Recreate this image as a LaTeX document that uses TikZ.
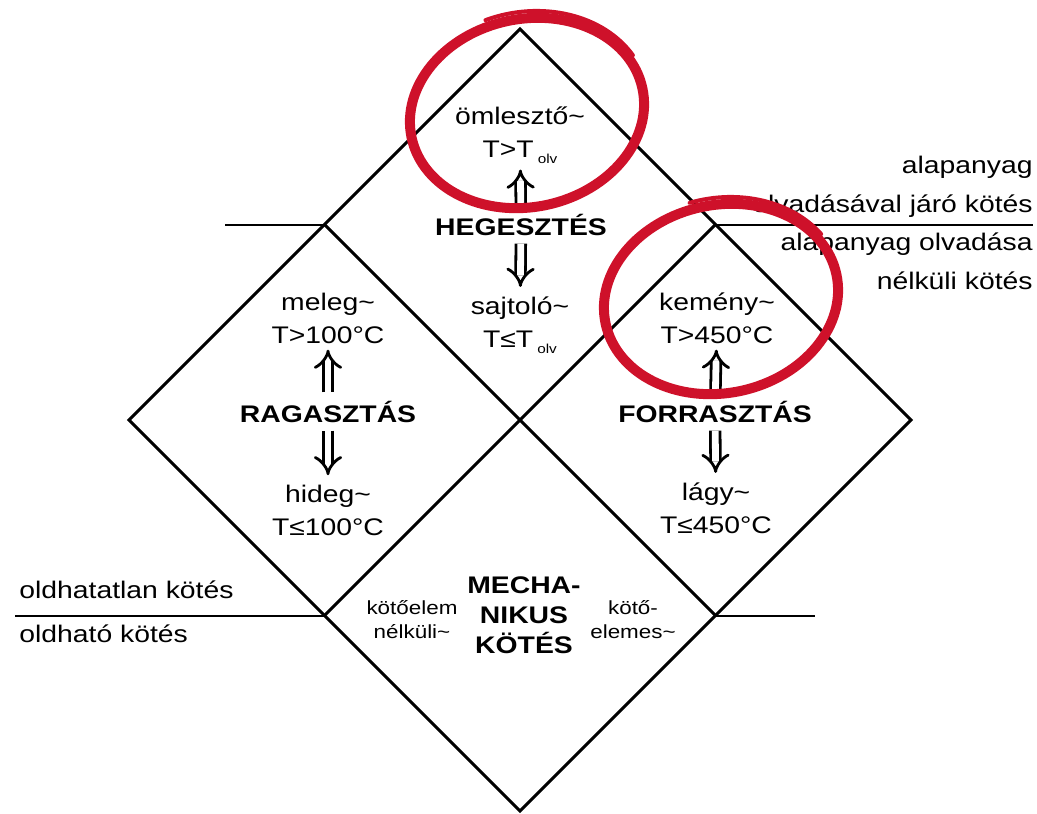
\documentclass[tikz,border=0pt]{standalone}
\usepackage{fontspec}
\setmainfont{Liberation Sans}[FakeStretch=1.18]
\usetikzlibrary{arrows.meta, positioning}
\definecolor{markRed}{RGB}{206, 17, 42}

\begin{document}
\begin{tikzpicture}[
    x=0.5pt, y=-0.5pt,
    frame/.style={line width=1.5pt, line join=miter},
    divider/.style={line width=1pt},
    kindtext/.style={font=\fontsize{12}{16.5}\selectfont, align=center, inner sep=1pt},
    grouptext/.style={font=\fontsize{12}{15}\selectfont\bfseries, align=center, inner sep=1pt},
    minortext/.style={font=\fontsize{9.5}{12}\selectfont, align=center, inner sep=1pt},
    sidetext/.style={font=\fontsize{12}{19.5}\selectfont, inner sep=0pt},
    uparrow/.style={double, double distance=3.4pt, line width=1.4pt, -{Implies}, shorten <=3pt, shorten >=2pt},
    downarrow/.style={double, double distance=3.4pt, line width=1.4pt, -{Implies}, shorten <=3pt, shorten >=3.5pt},
    redring/.style={draw=markRed, line width=5pt},
    redtail/.style={draw=markRed, line width=2pt, line cap=round}
]
    \useasboundingbox (0,0) rectangle (1037,813);

    % Csucsok
    \coordinate (top) at (520,29);
    \coordinate (lft) at (129,420);
    \coordinate (rgt) at (911,420);
    \coordinate (bot) at (520,811);
    \coordinate (ul) at (324.5,224.5);
    \coordinate (ur) at (715.5,224.5);
    \coordinate (ll) at (324.5,615.5);
    \coordinate (lr) at (715.5,615.5);
    \coordinate (ulEnd) at (225,224.5);
    \coordinate (urEnd) at (1033,224.5);
    \coordinate (llEnd) at (15,615.5);
    \coordinate (lrEnd) at (815,615.5);

    % Rombuszok
    \draw[frame] (top) -- (rgt) -- (bot) -- (lft) -- cycle;
    \draw[frame] (ul) -- (lr);
    \draw[frame] (ur) -- (ll);

    % Valaszto vonalak
    \draw[divider] (ulEnd) -- (ul);
    \draw[divider] (ur) -- (urEnd);
    \draw[divider] (llEnd) -- (ll);
    \draw[divider] (lr) -- (lrEnd);

    % Oldalso feliratok
    \node (olvFelett) [sidetext, anchor=base east, align=right] at (1033,212) {alapanyag\\olvadásával járó kötés};
    \node (olvAlatt) [sidetext, anchor=base east, align=right] at (1033,289) {alapanyag olvadása\\nélküli kötés};
    \node (oldFelett) [sidetext, anchor=base west] at (19,598) {oldhatatlan kötés};
    \node (oldAlatt) [sidetext, anchor=base west] at (19,642) {oldható kötés};

    % Hegesztes
    \node (heg) [grouptext, anchor=base] at (521,235) {HEGESZTÉS};
    \node (oml) [kindtext, anchor=base] at (520,157) {ömlesztő\char`\~\\T>T\,\raisebox{-3pt}{\fontsize{6.5}{7}\selectfont olv}};
    \node (saj) [kindtext, anchor=base] at (520,347) {sajtoló\char`\~\\T≤T\,\raisebox{-3pt}{\fontsize{6.5}{7}\selectfont olv}};

    % Ragasztas
    \node (rag) [grouptext, anchor=base] at (328,422) {RAGASZTÁS};
    \node (mel) [kindtext, anchor=base] at (328,343) {meleg\char`\~\\T>100°C};
    \node (hid) [kindtext, anchor=base] at (328,535) {hideg\char`\~\\T≤100°C};

    % Forrasztas
    \node (forr) [grouptext, anchor=base] at (715,422) {FORRASZTÁS};
    \node (kem) [kindtext, anchor=base] at (717,343) {kemény\char`\~\\T>450°C};
    \node (lagy) [kindtext, anchor=base] at (716,533) {lágy\char`\~\\T≤450°C};

    % Mechanikus kotes
    \node (mech) [grouptext, anchor=base] at (524,653) {MECHA-\\NIKUS\\KÖTÉS};
    \node (kelNelk) [minortext, anchor=base] at (412,638) {kötőelem\\nélküli\char`\~};
    \node (kelVel) [minortext, anchor=base] at (633,638) {kötő-\\elemes\char`\~};

    % Nyilak
    \draw[uparrow] (heg) -- (oml);
    \draw[downarrow] (heg) -- (saj);
    \draw[uparrow] (rag) -- (mel);
    \draw[downarrow] (rag) -- (hid);
    \draw[uparrow] (forr) -- (kem);
    \draw[downarrow] (forr) -- (lagy);

    % Piros karikak
    \draw[redring, rotate around={12:(527,113)}] (527,113) ellipse [x radius=118, y radius=94];
    \draw[redtail, rotate around={12:(527,113)}] (527,113) ++(-20:123 and 101) arc [start angle=-20, end angle=-100, x radius=123, y radius=101];
    \draw[redring, rotate around={12:(721,299)}] (721,299) ellipse [x radius=118, y radius=94];
    \draw[redtail, rotate around={12:(721,299)}] (721,299) ++(-25:123 and 101) arc [start angle=-25, end angle=-95, x radius=123, y radius=101];
\end{tikzpicture}
\end{document}
